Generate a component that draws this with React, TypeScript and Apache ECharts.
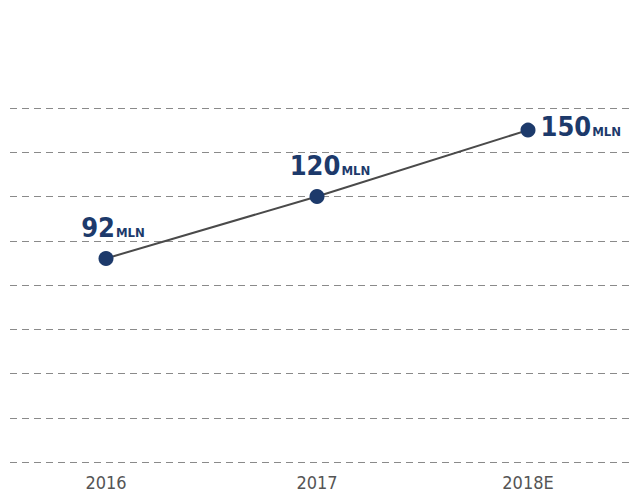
import React, { useEffect, useRef } from "react";
import * as echarts from "echarts";

const categories = ["2016", "2017", "2018E"];
const values = [92, 120, 150];
const unitLabel = "MLN";
const yMin = 0;
const yMax = 160;
const yInterval = 20;

const NAVY = "#1d3a6b";
const FONT = "'Liberation Sans Narrow', 'DejaVu Sans Condensed', 'Roboto', sans-serif";

export default function App() {
  const ref = useRef<HTMLDivElement>(null);
  useEffect(() => {
    document.body.style.margin = "0";
    const chart = echarts.init(ref.current!, null, { renderer: "svg" });
    const labelOffsets = [
      { position: "top", offset: [7, -5] },
      { position: "top", offset: [13, -5] },
      { position: "right", offset: [0, -4] },
    ];
    chart.setOption({
      animation: false,
      grid: [
        { left: 10, right: 0, top: 108, bottom: 31 },
        { left: 106, right: 102, top: 108, bottom: 31 },
      ],
      xAxis: [
        { gridIndex: 0, type: "category", data: categories, show: false },
        {
          gridIndex: 1,
          type: "category",
          data: categories,
          boundaryGap: false,
          axisLine: { show: false },
          axisTick: { show: false },
          axisLabel: {
            color: "#555",
            fontFamily: FONT,
            fontSize: 18,
            margin: 11,
          },
        },
      ],
      yAxis: [
        {
          gridIndex: 0,
          type: "value",
          min: yMin,
          max: yMax,
          interval: yInterval,
          axisLabel: { show: false },
          axisLine: { show: false },
          axisTick: { show: false },
          splitLine: {
            show: true,
            lineStyle: { color: "#8a8a8a", type: [7, 5], width: 1 },
          },
        },
        {
          gridIndex: 1,
          type: "value",
          min: yMin,
          max: yMax,
          interval: yInterval,
          show: false,
          splitLine: { show: false },
        },
      ],
      series: [
        {
          type: "line",
          xAxisIndex: 1,
          yAxisIndex: 1,
          data: values.map((v, i) => ({
            value: v,
            label: {
              show: true,
              position: labelOffsets[i].position,
              offset: labelOffsets[i].offset,
              formatter: "{a|" + v + "}{b|" + unitLabel + "}",
              rich: {
                a: {
                  fontFamily: FONT,
                  fontWeight: "bold",
                  fontSize: 27,
                  color: NAVY,
                },
                b: {
                  fontFamily: FONT,
                  fontWeight: "bold",
                  fontSize: 13,
                  color: NAVY,
                  verticalAlign: "bottom",
                  padding: [0, 0, 2, 1],
                },
              },
            },
          })),
          symbol: "circle",
          symbolSize: 15,
          itemStyle: { color: NAVY },
          lineStyle: { color: "#4a4a4a", width: 2 },
        },
      ],
    });
    return () => chart.dispose();
  }, []);
  return <div ref={ref} style={{ width: 630, height: 493 }} />;
}
